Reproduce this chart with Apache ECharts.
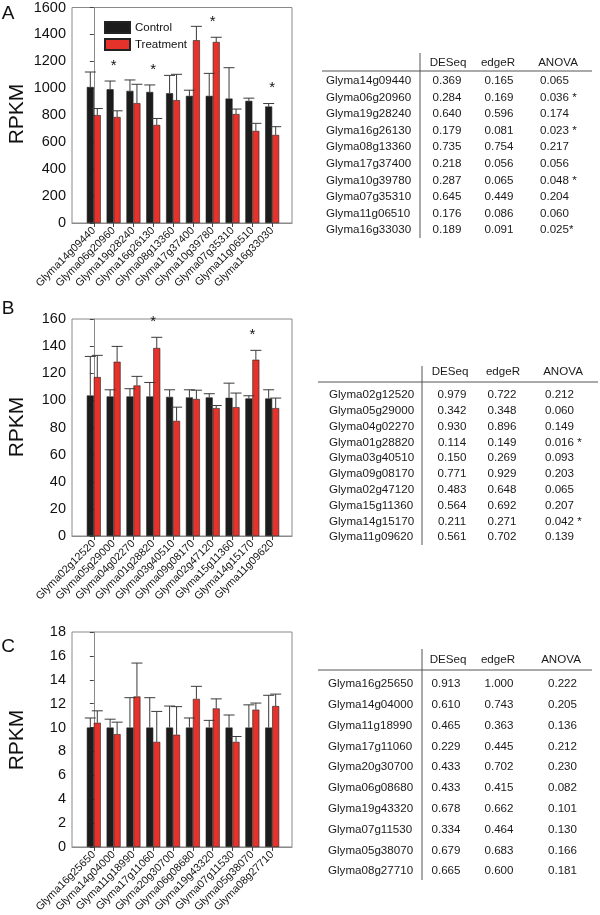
<!DOCTYPE html>
<html>
<head>
<meta charset="utf-8">
<script src="https://cdn.jsdelivr.net/npm/echarts@6/dist/echarts.min.js"></script>
<style>
  html, body { margin: 0; padding: 0; background: #fff; }
  #main { width: 600px; height: 915px; }
</style>
</head>
<body>
<div id="main"></div>
<script>
// panel A
var genesA = ['Glyma14g09440','Glyma06g20960','Glyma19g28240','Glyma16g26130','Glyma08g13360',
              'Glyma17g37400','Glyma10g39780','Glyma07g35310','Glyma11g06510','Glyma16g33030'];
var ctrlA = [1010, 993, 981, 973, 964, 944, 944, 924, 907, 865];
var ctrlErrA = [111, 61, 81, 52, 132, 42, 167, 229, 20, 22];
var trtA = [801, 787, 890, 728, 912, 1357, 1344, 809, 684, 654];
var trtErrA = [49, 46, 140, 48, 192, 103, 35, 37, 56, 61];
var starsA = [1, 3, 6, 9];
var deseqA = ['0.369','0.284','0.640','0.179','0.735','0.218','0.287','0.645','0.176','0.189'];
var edgerA = ['0.165','0.169','0.596','0.081','0.754','0.056','0.065','0.449','0.086','0.091'];
var anovaA = ['0.065','0.036 *','0.174','0.023 *','0.217','0.056','0.048 *','0.204','0.060','0.025*'];

// panel B
var genesB = ['Glyma02g12520','Glyma05g29000','Glyma04g02270','Glyma01g28820','Glyma03g40510',
              'Glyma09g08170','Glyma02g47120','Glyma15g11360','Glyma14g15170','Glyma11g09620'];
var ctrlB = [103.6, 102.9, 102.9, 102.9, 102.6, 102.2, 102.2, 101.9, 101.4, 101.4];
var ctrlErrB = [28.8, 4.9, 5.7, 10.3, 5.2, 5.6, 2.7, 10.8, 2.0, 6.4];
var trtB = [117.2, 128.5, 111.0, 138.6, 84.9, 101.0, 94.3, 95.0, 130.0, 94.3];
var trtErrB = [16.0, 11.3, 6.7, 7.9, 10.1, 6.5, 1.9, 10.4, 6.9, 7.4];
var starsB = [3, 8];
var deseqB = ['0.979','0.342','0.930','0.114','0.150','0.771','0.483','0.564','0.211','0.561'];
var edgerB = ['0.722','0.348','0.896','0.149','0.269','0.929','0.648','0.692','0.271','0.702'];
var anovaB = ['0.212','0.060','0.149','0.016 *','0.093','0.203','0.065','0.207','0.042 *','0.139'];

// panel C
var genesC = ['Glyma16g25650','Glyma14g04000','Glyma11g18990','Glyma17g11060','Glyma20g30700',
              'Glyma06g08680','Glyma19g43320','Glyma07g11530','Glyma05g38070','Glyma08g27710'];
var ctrlC = [10.0, 10.0, 10.0, 10.0, 10.0, 10.0, 10.0, 10.0, 10.0, 10.0];
var ctrlErrC = [0.8, 0.7, 2.5, 2.5, 1.8, 0.8, 0.6, 1.05, 1.9, 2.7];
var trtC = [10.4, 9.45, 12.6, 8.8, 9.4, 12.4, 11.6, 8.8, 11.5, 11.8];
var trtErrC = [1.0, 1.0, 2.8, 2.55, 2.35, 1.05, 0.8, 0.45, 0.55, 1.0];
var starsC = [];
var deseqC = ['0.913','0.610','0.465','0.229','0.433','0.433','0.678','0.334','0.679','0.665'];
var edgerC = ['1.000','0.743','0.363','0.445','0.702','0.415','0.662','0.464','0.683','0.600'];
var anovaC = ['0.222','0.205','0.136','0.212','0.230','0.082','0.101','0.130','0.166','0.181'];

var FONT = "'Liberation Sans', Arial, sans-serif";
var myChart = echarts.init(document.getElementById('main'));

var grids = [], xAxes = [], yAxes = [], series = [], graphics = [];

function idx(arr) { return arr.map(function (v, i) { return i; }); }

function addPanel(k, genes, ctrl, ctrlErr, trt, trtErr, stars, yMax, yStep, top, height) {
    grids.push({ left: 72, right: 308, top: top, height: height, show: true,
                 borderColor: '#8a8a8a', borderWidth: 1, backgroundColor: 'transparent' });
    xAxes.push({
        gridIndex: k, type: 'value', min: -1.1, max: 10.0,
        axisLine: { show: true, lineStyle: { color: '#8a8a8a' } },
        axisTick: { show: true, customValues: idx(genes), length: 4, lineStyle: { color: '#444' } },
        axisLabel: { customValues: idx(genes), rotate: 45, margin: 6, fontSize: 10.8,
                     fontFamily: FONT, color: '#111',
                     formatter: function (v) { return genes[Math.round(v)]; } },
        splitLine: { show: false }
    });
    yAxes.push({
        gridIndex: k, type: 'value', min: 0, max: yMax, interval: yStep,
        axisLine: { show: true, lineStyle: { color: '#8a8a8a' } },
        axisTick: { show: true, inside: false, length: 4, lineStyle: { color: '#444' } },
        axisLabel: { fontSize: 14.5, fontFamily: FONT, color: '#111', margin: 6,
                     formatter: function (v) { return String(v); } },
        splitLine: { show: false }
    });
    var pairs = [
        { name: 'Control', vals: ctrl, errs: ctrlErr, color: '#1c1c1c', off: -3.5 },
        { name: 'Treatment', vals: trt, errs: trtErr, color: '#e5322b', off: 3.5 }
    ];
    pairs.forEach(function (p) {
        series.push({
            name: p.name, type: 'bar', xAxisIndex: k, yAxisIndex: k,
            barWidth: 7, barGap: '0%',
            itemStyle: { color: p.color, borderColor: '#222', borderWidth: 0.6 },
            data: p.vals.map(function (v, i) { return [i, v]; })
        });
    });
    pairs.forEach(function (p) {
        series.push({
            type: 'custom', xAxisIndex: k, yAxisIndex: k, silent: true, z: 3,
            data: p.vals.map(function (v, i) { return [i, v, p.errs[i]]; }),
            encode: { x: 0, y: 1 },
            renderItem: function (params, api) {
                var a = api.coord([api.value(0), api.value(1)]);
                var b = api.coord([api.value(0), api.value(1) + api.value(2)]);
                var x = a[0] + p.off;
                var st = { stroke: '#3a3a3a', lineWidth: 1 };
                return { type: 'group', children: [
                    { type: 'line', shape: { x1: x, y1: a[1], x2: x, y2: b[1] }, style: st },
                    { type: 'line', shape: { x1: x - 5.5, y1: b[1], x2: x + 5.5, y2: b[1] }, style: st }
                ] };
            }
        });
    });
    if (stars.length) {
        series.push({
            type: 'custom', xAxisIndex: k, yAxisIndex: k, silent: true, z: 4,
            data: stars.map(function (i) {
                return [i, Math.max(ctrl[i] + ctrlErr[i], trt[i] + trtErr[i])];
            }),
            encode: { x: 0, y: 1 },
            renderItem: function (params, api) {
                var c = api.coord([api.value(0), api.value(1)]);
                return { type: 'text', x: c[0], y: c[1] - 8,
                         style: { text: '*', fontSize: 15, fontFamily: FONT, fill: '#111',
                                  align: 'center', verticalAlign: 'bottom' } };
            }
        });
    }
}

addPanel(0, genesA, ctrlA, ctrlErrA, trtA, trtErrA, starsA, 1600, 200, 6, 217);
addPanel(1, genesB, ctrlB, ctrlErrB, trtB, trtErrB, starsB, 160, 20, 319, 217);
addPanel(2, genesC, ctrlC, ctrlErrC, trtC, trtErrC, starsC, 18, 2, 632, 215);

// panel letters and axis titles
[['A', 14, 114], ['B', 309, 427], ['C', 647, 740]].forEach(function (t) {
    graphics.push({ type: 'text', x: 8, y: t[1],
        style: { text: t[0], fontSize: 19, fontFamily: FONT, fill: '#111',
                 align: 'center', verticalAlign: 'middle' } });
    graphics.push({ type: 'text', x: 17, y: t[2], rotation: Math.PI / 2,
        style: { text: 'RPKM', fontSize: 21, fontFamily: FONT, fill: '#111',
                 align: 'center', verticalAlign: 'middle' } });
});

// tables
function addTable(genes, deseq, edger, anova, L) {
    var ts = { fontSize: 11.6, fontFamily: FONT, fill: '#1a1a1a', verticalAlign: 'middle' };
    function txt(s, x, y, align) {
        graphics.push({ type: 'text', x: x, y: y,
            style: Object.assign({}, ts, { text: s, align: align }) });
    }
    txt('DESeq', L.c1h, L.head, 'center');
    txt('edgeR', L.c2h, L.head, 'center');
    txt('ANOVA', L.c3h, L.head, 'center');
    graphics.push({ type: 'line', shape: { x1: L.hx1, y1: L.hy, x2: L.hx2, y2: L.hy },
                    style: { stroke: '#555', lineWidth: 1 } });
    graphics.push({ type: 'line', shape: { x1: L.vx, y1: L.vy1, x2: L.vx, y2: L.vy2 },
                    style: { stroke: '#555', lineWidth: 1 } });
    genes.forEach(function (g, i) {
        var y = L.row0 + i * L.dy;
        txt(g, L.gx, y, 'left');
        txt(deseq[i], L.c1, y, 'center');
        txt(edger[i], L.c2, y, 'center');
        txt(anova[i], L.c3, y, 'left');
    });
}

addTable(genesA, deseqA, edgerA, anovaA, { head: 63, hy: 71, hx1: 322, hx2: 592, vx: 420, vy1: 53, vy2: 238,
    row0: 81, dy: 16.55, gx: 326, c1: 447, c2: 499, c3: 540, c1h: 448, c2h: 498, c3h: 558 });
addTable(genesB, deseqB, edgerB, anovaB, { head: 372, hy: 382, hx1: 318, hx2: 598, vx: 422, vy1: 366, vy2: 545,
    row0: 395, dy: 15.8, gx: 329, c1: 452, c2: 502, c3: 545, c1h: 450, c2h: 503, c3h: 563 });
addTable(genesC, deseqC, edgerC, anovaC, { head: 660, hy: 670, hx1: 318, hx2: 592, vx: 422, vy1: 649, vy2: 880,
    row0: 684, dy: 20.8, gx: 328, c1: 446, c2: 499, c3: 548, c1h: 448, c2h: 498, c3h: 561 });

myChart.setOption({
    animation: false,
    textStyle: { fontFamily: FONT },
    legend: {
        data: ['Control', 'Treatment'], orient: 'vertical', left: 99, top: 16,
        itemWidth: 25, itemHeight: 11, itemGap: 4, icon: 'rect',
        textStyle: { fontSize: 11.5, fontFamily: FONT, color: '#111' }
    },
    grid: grids,
    xAxis: xAxes,
    yAxis: yAxes,
    series: series,
    graphic: graphics
});
</script>
</body>
</html>
